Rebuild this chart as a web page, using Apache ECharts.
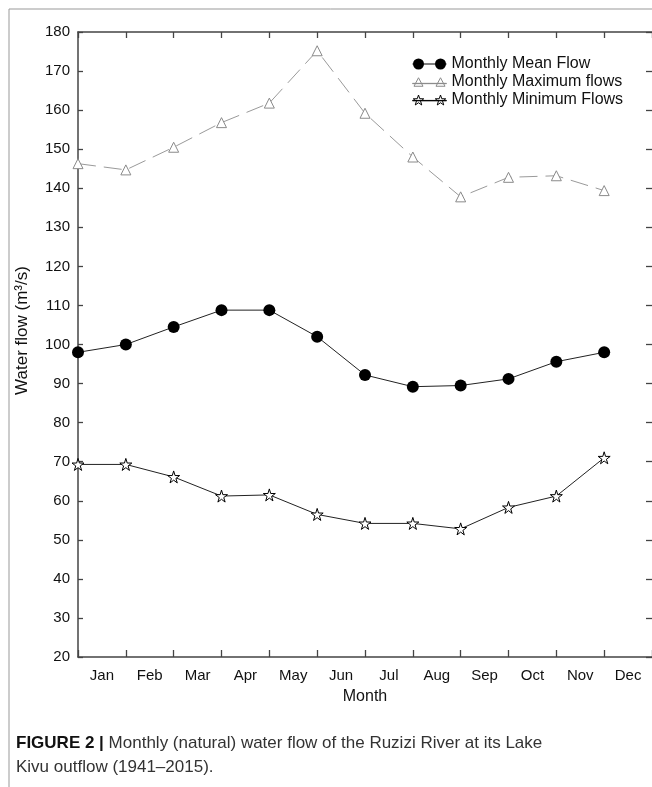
<!DOCTYPE html>
<html>
<head>
<meta charset="utf-8">
<script src="https://cdn.jsdelivr.net/npm/echarts@6/dist/echarts.min.js"></script>
<style>
html,body{margin:0;padding:0;background:#fff;}
#chart{width:652px;height:787px;}
</style>
</head>
<body>
<div id="chart"></div>
<script>
var months = ['Jan','Feb','Mar','Apr','May','Jun','Jul','Aug','Sep','Oct','Nov','Dec'];
var meanFlow = [98, 100, 104.5, 108.8, 108.8, 102, 92.2, 89.2, 89.5, 91.2, 95.6, 98];
var maxFlow = [146.3, 144.7, 150.5, 156.8, 161.8, 175.2, 159.2, 148, 137.8, 142.8, 143.2, 139.4];
var minFlow = [69.3, 69.3, 66.1, 61.2, 61.5, 56.5, 54.2, 54.2, 52.8, 58.3, 61.2, 71];
var yTicks = {min: 20, max: 180, interval: 10};

var FONT = '"Liberation Sans", Arial, Helvetica, sans-serif';
var STAR = 'path://M50,0 L61,35 L98,35 L68,57 L79,91 L50,70 L21,91 L32,57 L2,35 L39,35 Z';

var ICON_MEAN = 'path://M0,5 L34,5 L34,6.1 L0,6.1 Z ' +
  'M0.5,5.5 A5.5,5.5 0 1 1 11.5,5.5 A5.5,5.5 0 1 1 0.5,5.5 Z ' +
  'M22.5,5.5 A5.5,5.5 0 1 1 33.5,5.5 A5.5,5.5 0 1 1 22.5,5.5 Z';
var ICON_MAX = 'path://M0,6.6 L34,6.6 L34,6.9 L0,6.9 Z ' +
  'M6,1 L10.5,9.5 L1.5,9.5 Z M28,1 L32.5,9.5 L23.5,9.5 Z';
var ICON_MIN = 'path://M0,5.4 L34,5.4 L34,5.8 L0,5.8 Z ' +
  'M6,0 L7.29,3.72 L11.23,3.8 L8.09,6.18 L9.23,9.95 L6,7.7 L2.77,9.95 L3.91,6.18 L0.77,3.8 L4.71,3.72 Z ' +
  'M28,0 L29.29,3.72 L33.23,3.8 L30.09,6.18 L31.23,9.95 L28,7.7 L24.77,9.95 L25.91,6.18 L22.77,3.8 L26.71,3.72 Z';

function pts(arr){ return arr.map(function(v,i){ return [i, v]; }); }

var chart = echarts.init(document.getElementById('chart'));
var axisLineStyle = {color:'#444', width:1.5};
chart.setOption({
  animation: false,
  backgroundColor: '#fff',
  textStyle: {fontFamily: FONT},
  grid: {left: 78, top: 32, width: 576, height: 625, containLabel: false},
  legend: {
    orient: 'vertical', left: 407, top: 51, itemGap: 2,
    itemWidth: 34, itemHeight: 11, symbolKeepAspect: true,
    textStyle: {fontFamily: FONT, fontSize: 16, color: '#111'},
    data: [
      {name:'Monthly Mean Flow', icon: ICON_MEAN, itemStyle:{color:'#000', borderWidth:0}},
      {name:'Monthly Maximum flows', icon: ICON_MAX, itemStyle:{color:'#fff', borderColor:'#8a8a8a', borderWidth:1}},
      {name:'Monthly Minimum Flows', icon: ICON_MIN, itemStyle:{color:'#fff', borderColor:'#000', borderWidth:1}}
    ]
  },
  xAxis: [
    {type:'category', data: months, position:'bottom', boundaryGap:true,
     name:'Month', nameLocation:'middle', nameGap:32,
     nameTextStyle:{fontFamily:FONT, fontSize:16, color:'#111'},
     axisLine:{show:true, lineStyle:axisLineStyle},
     axisTick:{show:true, inside:true, length:7, lineStyle:{color:'#444', width:1.3}},
     axisLabel:{fontFamily:FONT, fontSize:15, color:'#111', margin:11},
     splitLine:{show:false}},
    {type:'value', min:0, max:12, show:false, position:'bottom'},
    {type:'category', data: months, position:'top', boundaryGap:true,
     axisLine:{show:true, lineStyle:axisLineStyle},
     axisTick:{show:true, inside:true, length:6, lineStyle:{color:'#444', width:1.3}},
     axisLabel:{show:false}, splitLine:{show:false}}
  ],
  yAxis: [
    {type:'value', min:yTicks.min, max:yTicks.max, interval:yTicks.interval, position:'left',
     name:'Water flow (m³/s)', nameLocation:'middle', nameGap:47, nameRotate:90,
     nameTextStyle:{fontFamily:FONT, fontSize:17, color:'#111', padding:[0,0,0,28]},
     axisLine:{show:true, lineStyle:axisLineStyle},
     axisTick:{show:true, inside:true, length:5, lineStyle:{color:'#444', width:1.3}},
     axisLabel:{fontFamily:FONT, fontSize:15, color:'#111', margin:8},
     splitLine:{show:false}},
    {type:'value', min:yTicks.min, max:yTicks.max, interval:yTicks.interval, position:'right',
     axisLine:{show:false},
     axisTick:{show:true, inside:true, length:6, lineStyle:{color:'#444', width:1.3}},
     axisLabel:{show:false}, splitLine:{show:false}}
  ],
  series: [
    {name:'Monthly Mean Flow', type:'line', xAxisIndex:1, yAxisIndex:0, data: pts(meanFlow),
     symbol:'circle', symbolSize:12,
     lineStyle:{color:'#222', width:1},
     itemStyle:{color:'#000'}},
    {name:'Monthly Maximum flows', type:'line', xAxisIndex:1, yAxisIndex:0, data: pts(maxFlow),
     symbol:'triangle', symbolSize:10,
     lineStyle:{color:'#9a9a9a', width:1, type:[18,8]},
     itemStyle:{color:'#fff', borderColor:'#8a8a8a', borderWidth:1}},
    {name:'Monthly Minimum Flows', type:'line', xAxisIndex:1, yAxisIndex:0, data: pts(minFlow),
     symbol:STAR, symbolSize:12,
     lineStyle:{color:'#222', width:1},
     itemStyle:{color:'#fff', borderColor:'#000', borderWidth:1}}
  ],
  graphic: [
    {type:'line', shape:{x1:9, y1:9, x2:652, y2:9}, style:{stroke:'#999', lineWidth:1}},
    {type:'line', shape:{x1:9, y1:9, x2:9, y2:787}, style:{stroke:'#999', lineWidth:1}},
    {type:'text', left:16, top:731, style:{
      text:'{b|FIGURE 2 |} Monthly (natural) water flow of the Ruzizi River at its Lake\nKivu outflow (1941–2015).',
      fontFamily:FONT, fontSize:17, fill:'#333', lineHeight:24,
      rich:{b:{fontWeight:'bold', fontFamily:FONT, fontSize:17, fill:'#111'}}
    }}
  ]
});
</script>
</body>
</html>
